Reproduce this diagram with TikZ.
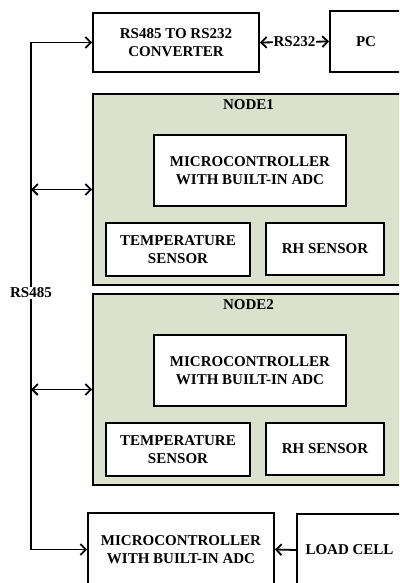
\documentclass[tikz,border=0pt]{standalone}
\usepackage{fontspec}
\setmainfont{Liberation Serif}
\usetikzlibrary{arrows.meta}
\definecolor{nodegreen}{RGB}{220,225,205}
\begin{document}
\begin{tikzpicture}[x=1pt,y=-1pt,
  txt/.style={font=\bfseries\fontsize{15}{17.5}\selectfont,align=center},
  box/.style={txt,draw,line width=1.8pt,fill=white,inner sep=0pt},
  group/.style={draw,line width=1.8pt,fill=nodegreen,inner sep=0pt},
  link/.style={line width=1.8pt,>={Straight Barb[length=5.5pt,width=11pt]}},
  lbl/.style={txt,fill=white,inner sep=1pt}
]
\useasboundingbox (0,0) rectangle (399,583);
\clip (0,0) rectangle (399,583);

% converter and PC
\node[box,minimum width=166pt,minimum height=59pt] (conv) at (176,42.5) {RS485 TO RS232\\CONVERTER};
\node[box,minimum width=72pt,minimum height=61pt] (pc) at (366,41.5) {PC};

% sensor node 1
\node[group,minimum width=311pt,minimum height=191pt] (node1) at (248.5,189.5) {};
\node[txt] (n1title) at (248.5,105) {NODE1};
\node[box,minimum width=192pt,minimum height=71pt] (mcu1) at (250,170.5) {MICROCONTROLLER\\WITH BUILT-IN ADC};
\node[box,minimum width=144pt,minimum height=53pt] (temp1) at (178,249.5) {TEMPERATURE\\SENSOR};
\node[box,minimum width=118pt,minimum height=52pt] (rh1) at (325,249) {RH SENSOR};

% sensor node 2
\node[group,minimum width=311pt,minimum height=191pt] (node2) at (248.5,389.5) {};
\node[txt] (n2title) at (248.5,305) {NODE2};
\node[box,minimum width=192pt,minimum height=71pt] (mcu2) at (250,370.5) {MICROCONTROLLER\\WITH BUILT-IN ADC};
\node[box,minimum width=144pt,minimum height=53pt] (temp2) at (178,449.5) {TEMPERATURE\\SENSOR};
\node[box,minimum width=118pt,minimum height=52pt] (rh2) at (325,449) {RH SENSOR};

% load cell station
\node[box,minimum width=186pt,minimum height=73pt] (mcu3) at (181,549.5) {MICROCONTROLLER\\WITH BUILT-IN ADC};
\node[box,minimum width=105pt,minimum height=72pt] (load) at (349.5,550) {LOAD CELL};

% RS485 bus
\coordinate (busx) at (31,0);
\coordinate (bt) at (busx |- conv.west);
\coordinate (bb) at (busx |- mcu3.west);
\draw[link,<->] (conv.west) -- (bt) -- (bb) -- (mcu3.west);
\draw[link,<->] (busx |- node1.west) -- (node1.west);
\draw[link,<->] (busx |- node2.west) -- (node2.west);
\node[lbl] (bus) at (31,293) {RS485};

% RS232 link
\draw[link,<->] (conv.east) -- (pc.west);
\node[lbl] (rs232) at (294.5,42) {RS232};

% load cell to microcontroller
\draw[link,->] (load.west) -- (mcu3.east);
\end{tikzpicture}
\end{document}
